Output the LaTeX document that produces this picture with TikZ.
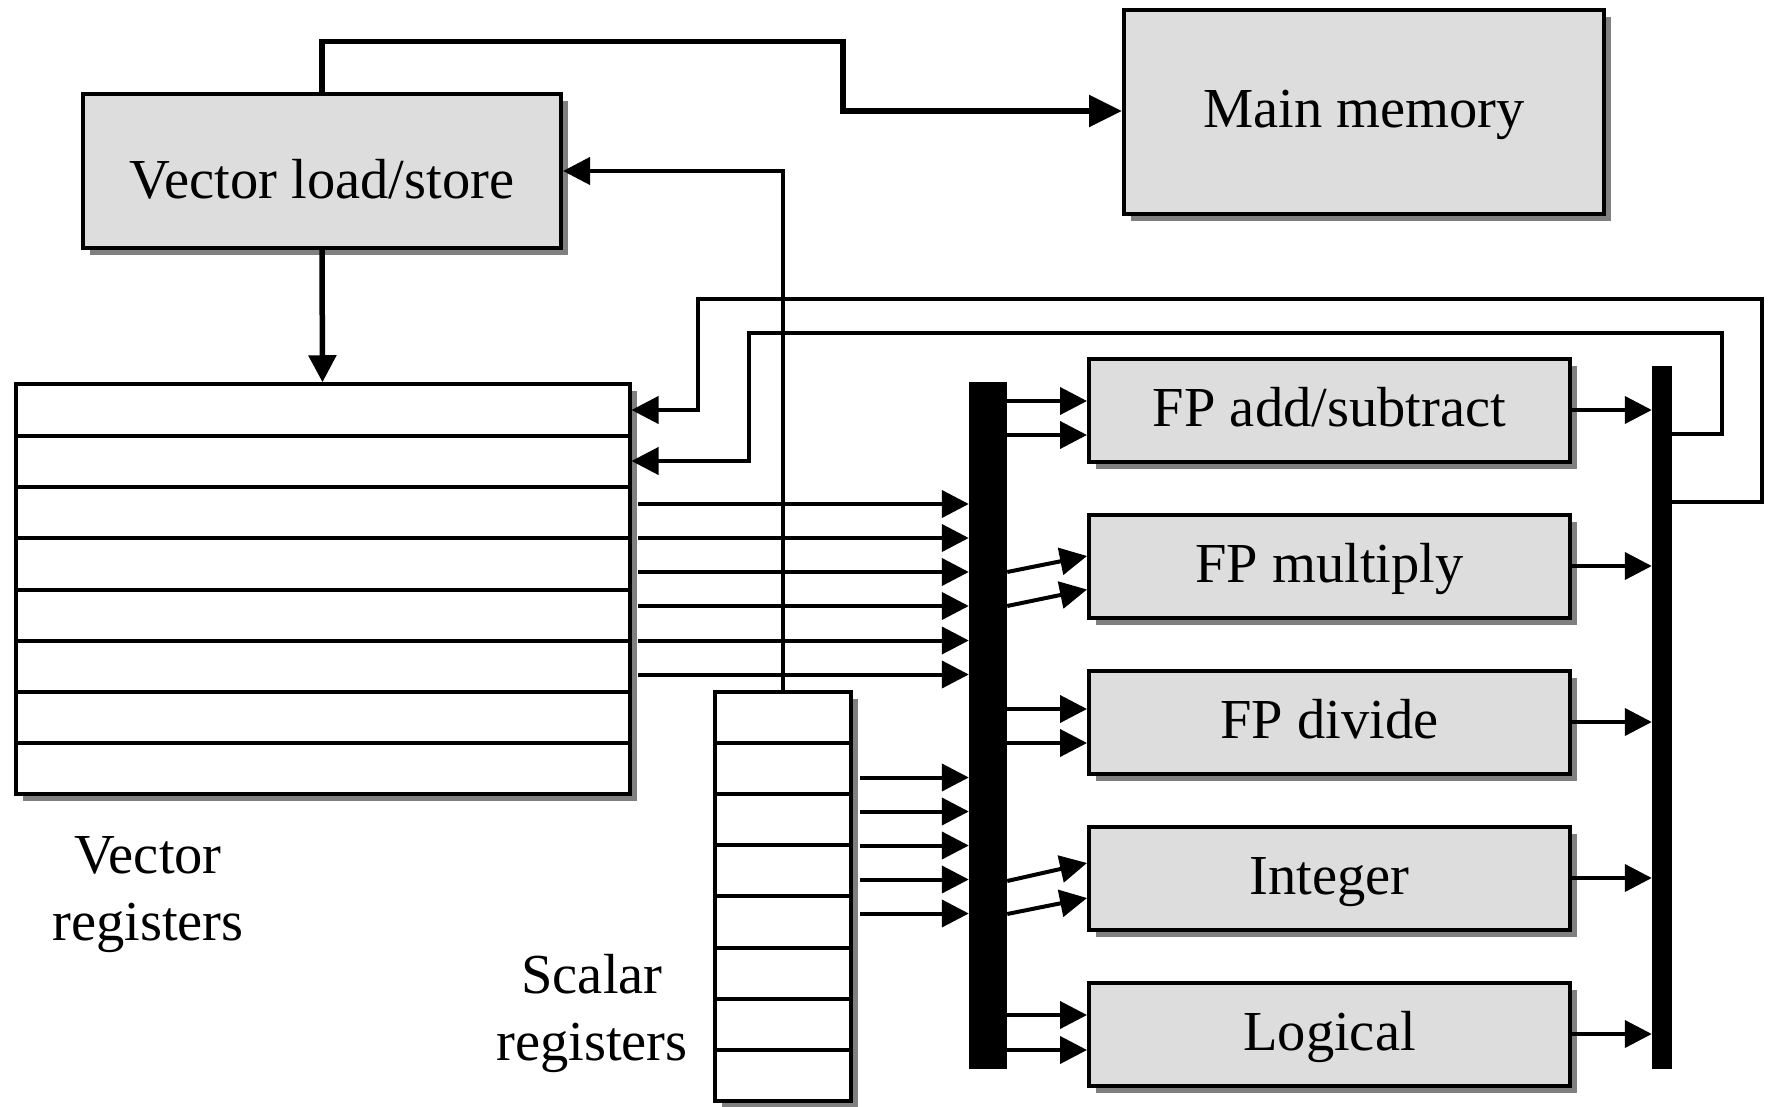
\documentclass[tikz,border=0pt]{standalone}
\usepackage{fontspec}
\setmainfont{Liberation Serif}
\usetikzlibrary{arrows.meta,shadows}
\definecolor{boxgray}{HTML}{DDDDDD}
\definecolor{shgray}{HTML}{808080}
\begin{document}
\begin{tikzpicture}[x=1pt,y=-1pt,
  every node/.style={font=\fontsize{56.5}{67}\selectfont},
  shadowed/.style={general shadow={fill=shgray, shadow xshift=7pt, shadow yshift=-7pt}},
  unit/.style={draw, line width=4pt, fill=boxgray, inner sep=0pt,
    minimum width=481pt, minimum height=103pt, text height=38pt, text depth=6pt, shadowed},
  regbox/.style={draw, line width=4pt, fill=white, inner sep=0pt, shadowed},
  rowline/.style={line width=4pt},
  bus/.style={fill=black, inner sep=0pt},
  arr/.style={line width=4pt, -{Triangle[length=27pt,width=27pt]}},
  bigarr/.style={line width=5.5pt, -{Triangle[length=27pt,width=27pt]}},
  memarr/.style={line width=5.5pt, -{Triangle[length=33pt,width=31pt]}},
  lab/.style={anchor=base, align=center}
]
\useasboundingbox (0,0) rectangle (1769,1107);

% boxes
\node[unit, minimum width=478pt, minimum height=154pt, text height=56pt, text depth=0pt] (vls) at (322,171) {Vector load/store};
\node[unit, minimum width=480pt, minimum height=204pt] (mm) at (1364,112) {Main memory};
\node[regbox, minimum width=614pt, minimum height=410pt] (vr) at (322.5,589.25) {};
\node[regbox, minimum width=136.5pt, minimum height=409.5pt] (sr) at (782.75,896.25) {};

\foreach \i [evaluate=\i as \yy using 384.5+\i*51.25] in {1,...,7}
  \draw[rowline] (vr.west |- 0,\yy) -- (vr.east |- 0,\yy);
\foreach \i [evaluate=\i as \yy using 691.5+\i*51.2] in {1,...,7}
  \draw[rowline] (sr.west |- 0,\yy) -- (sr.east |- 0,\yy);

% buses
\node[bus, minimum width=38pt, minimum height=687pt] (lb) at (988,725.5) {};
\node[bus, minimum width=20pt, minimum height=703pt] (rb) at (1662,717.5) {};

% functional units
\node[unit] (add) at (1329.5,410) {FP add/subtract};
\node[unit] (mul) at (1329.5,566) {FP multiply};
\node[unit] (div) at (1329.5,722) {FP divide};
\node[unit] (int) at (1329.5,878) {Integer};
\node[unit] (log) at (1329.5,1034) {Logical};

% labels (base anchor = baseline of the last line)
\node[lab] (vrlab) at (148,940) {Vector\\registers};
\node[lab] (srlab) at (592,1060) {Scalar\\registers};

% load/store connections
\draw[memarr] (vls.north) -- (vls.north |- 0,41.5) -| (843,111) -- (mm.west |- 0,111);
\draw[bigarr] (vls.south) -- (vr.north);
\draw[arr] (sr.north) |- (vls.east);

% feedback loops
\draw[arr] (rb.east |- 0,502) -- (1762,502) -- (1762,299) -- (698,299) -- (698,410) -- (vr.east |- 0,410);
\draw[arr] (rb.east |- 0,434) -- (1721.5,434) -- (1721.5,332.5) -- (749,332.5) -- (749,461) -- (vr.east |- 0,461);

% register outputs to bus
\foreach \y in {504,538,572,606,640.5,674.5}
  \draw[arr] ([xshift=6.5pt]vr.east |- 0,\y) -- (lb.west |- 0,\y);
\foreach \y in {777.5,811.5,845.5,879.5,913.5}
  \draw[arr] ([xshift=7pt]sr.east |- 0,\y) -- (lb.west |- 0,\y);

% bus to units
\draw[arr] (lb.east |- 0,401) -- (add.west |- 0,401);
\draw[arr] (lb.east |- 0,435) -- (add.west |- 0,435);
\draw[arr] (lb.east |- 0,572) -- (mul.west |- 0,556);
\draw[arr] (lb.east |- 0,606) -- (mul.west |- 0,589.5);
\draw[arr] (lb.east |- 0,709) -- (div.west |- 0,709);
\draw[arr] (lb.east |- 0,743) -- (div.west |- 0,743);
\draw[arr] (lb.east |- 0,881) -- (int.west |- 0,863);
\draw[arr] (lb.east |- 0,914) -- (int.west |- 0,898);
\draw[arr] (lb.east |- 0,1015) -- (log.west |- 0,1015);
\draw[arr] (lb.east |- 0,1050) -- (log.west |- 0,1050);

% units to result bus
\foreach \u in {add,mul,div,int,log}
  \draw[arr] (\u.east) -- (rb.west |- \u.east);
\end{tikzpicture}
\end{document}
